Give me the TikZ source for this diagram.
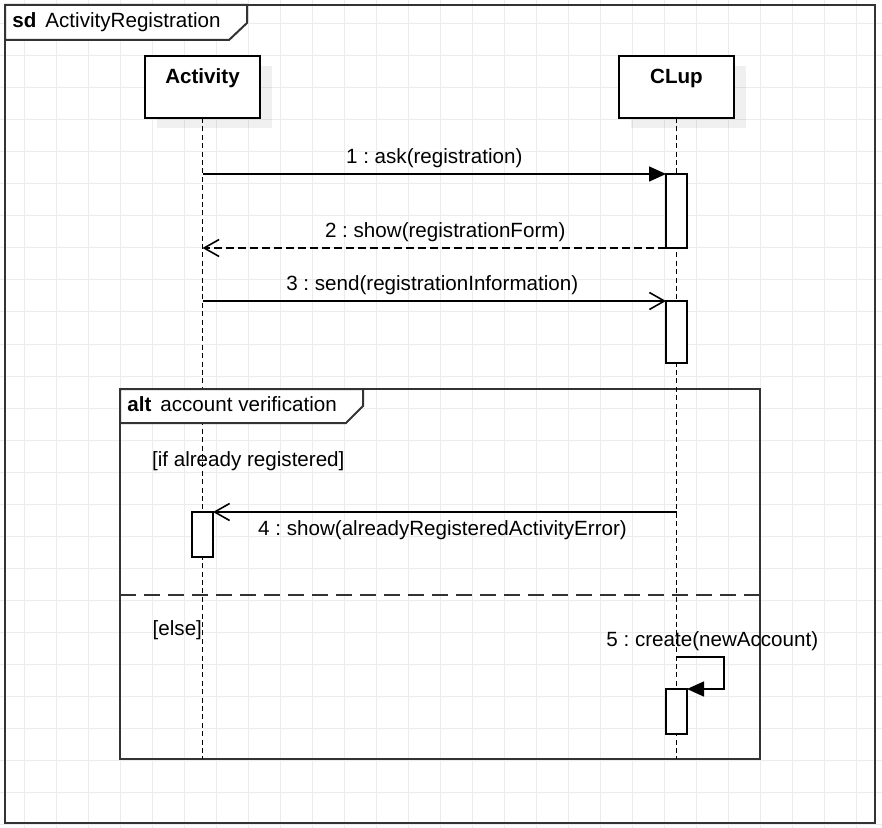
\documentclass[tikz,border=0pt]{standalone}
\usepackage{fontspec}
\setmainfont{Liberation Sans}
\usepackage{xcolor}
\definecolor{gridgray}{RGB}{236,236,236}
\definecolor{framegray}{RGB}{51,51,51}
\usetikzlibrary{calc, positioning, arrows.meta, shadows}
\frenchspacing

\begin{document}
\begin{tikzpicture}[
  x=0.5pt, y=-0.5pt,
  font=\fontsize{10.3}{12}\selectfont,
  gridline/.style={draw=gridgray, line width=0.5pt},
  sdbox/.style={rectangle, draw=framegray, line width=1pt, inner sep=0pt, outer sep=0pt, anchor=north west},
  titletab/.style={draw=framegray, fill=white, line width=1pt},
  lifehead/.style={rectangle, draw, fill=white, line width=1pt, font=\fontsize{10.3}{12}\selectfont\bfseries, minimum width=57.5pt, inner sep=0pt, outer sep=0pt, text height=13.7pt, text depth=17.3pt, anchor=north, drop shadow={shadow xshift=6pt, shadow yshift=-5pt, fill=black, opacity=0.06}},
  actbar/.style={rectangle, draw, fill=white, line width=0.8pt, minimum width=10.5pt, inner sep=0pt, outer sep=0pt, anchor=north},
  lifeline/.style={draw, line width=0.8pt, dash pattern=on 2.5pt off 1.7pt},
  msg/.style={draw, line width=0.8pt},
  reply/.style={msg, dash pattern=on 4pt off 2pt},
  sync/.style={-{Triangle[length=8.5pt, width=7.5pt]}},
  async/.style={-{Straight Barb[length=7.5pt, width=8.5pt, line width=0.8pt]}},
  altsplit/.style={draw=framegray, line width=1pt, dash pattern=on 8pt off 4pt},
  lbl/.style={inner sep=0pt, anchor=base},
  guard/.style={inner sep=0pt, anchor=base west}
]
  \useasboundingbox (0,0) rectangle (882,828);

  % background grid
  \foreach \g in {24,56,...,856} \draw[gridline] (\g,0) -- (\g,828);
  \foreach \g in {24,56,...,824} \draw[gridline] (0,\g) -- (882,\g);

  \node[sdbox, minimum width=435pt, minimum height=409pt] (sdframe) at (5,5) {};
  \node[sdbox, minimum width=320pt, minimum height=185pt] (altframe) at (120,389) {};
  \coordinate (split) at (0,595);

  \node[lifehead] (activity) at (202.5,56) {Activity};
  \node[lifehead] (clup) at (676.5,56) {CLup};

  \draw[lifeline] (activity.south) -- (activity.south |- altframe.south);
  \draw[lifeline] (clup.south) -- (clup.south |- altframe.south);

  \draw[titletab] (sdframe.north west) -- ++(242,0) -- ++(0,18) -- ++(-18,17) -- ++(-224,0) -- cycle;
  \node[lbl, anchor=base west] (sdtitle) at (12,28) {\textbf{sd}\hspace{4.5pt}ActivityRegistration};

  \draw[titletab] (altframe.north west) -- ++(243,0) -- ++(0,17) -- ++(-17,17) -- ++(-226,0) -- cycle;
  \node[lbl, anchor=base west] (alttitle) at (127,411.5) {\textbf{alt}\hspace{4.5pt}account verification};
  \draw[altsplit] (altframe.west |- split) -- (altframe.east |- split);
  \node[guard] (guardone) at (151.7,466) {[if already registered]};
  \node[guard] (guardtwo) at (152.3,635) {[else]};

  \node[actbar, minimum height=37pt] (ask) at (676.5,174) {};
  \node[actbar, minimum height=31pt] (send) at (676.5,301) {};
  \node[actbar, minimum height=22.5pt] (error) at (202.5,512) {};
  \node[actbar, minimum height=22.5pt] (create) at (676.5,689) {};

  \draw[msg, sync] (activity.south |- ask.north) -- (ask.north west)
    node[lbl, midway, yshift=5pt] {1 : ask(registration)};
  \draw[reply, async] (ask.south west) -- (activity.south |- ask.south)
    node[lbl, midway, xshift=5.5pt, yshift=5pt] {2 : show(registrationForm)};
  \draw[msg, async] (activity.south |- send.north) -- (send.north west)
    node[lbl, midway, xshift=-1pt, yshift=5pt] {3 : send(registrationInformation)};
  \draw[msg, async] (clup.south |- error.north) -- (error.north east)
    node[lbl, midway, xshift=-1.1pt, yshift=-11.5pt] {4 : show(alreadyRegisteredActivityError)};
  \draw[msg, sync] ([yshift=16pt]create.north)
    node[lbl, xshift=17.9pt, yshift=5.5pt] {5 : create(newAccount)}
    -- ++(47.5,0) |- (create.north east);
\end{tikzpicture}
\end{document}
